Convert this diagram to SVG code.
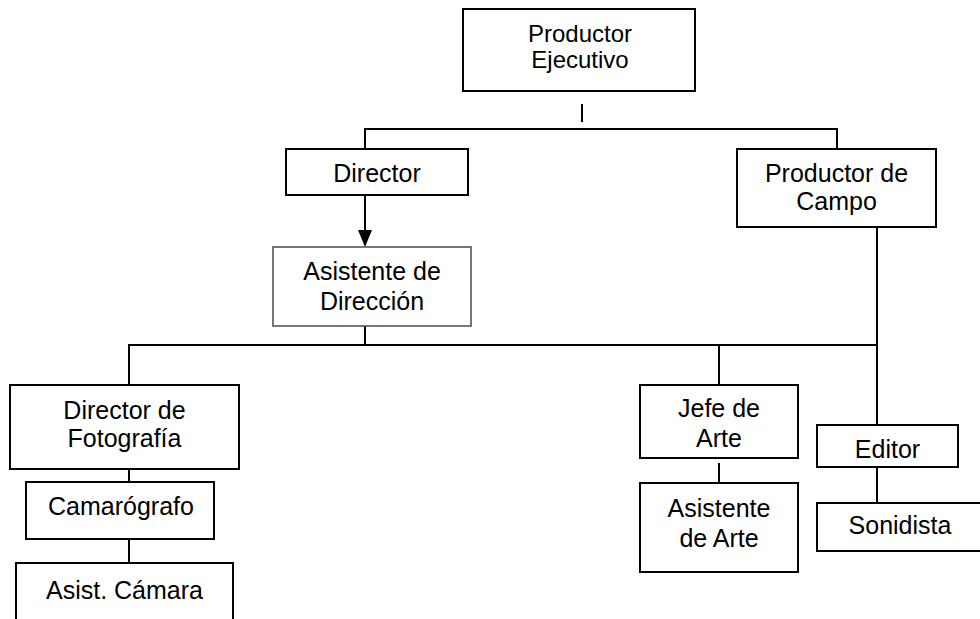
<svg xmlns="http://www.w3.org/2000/svg" width="980" height="619" viewBox="0 0 980 619">
<defs>
<style>
.box{fill:#fff;stroke:#000;stroke-width:2}
.gbox{fill:#fff;stroke:#555;stroke-width:1.6}
.t{font-family:"Liberation Sans",Arial,sans-serif;font-size:25px;fill:#000;text-anchor:middle}
.tt{font-family:"Liberation Sans",Arial,sans-serif;font-size:24px;fill:#000;text-anchor:middle}
.c{fill:none;stroke:#000;stroke-width:2}
</style>
<marker id="arr" markerWidth="14" markerHeight="17" refX="7" refY="17" orient="auto-start-reverse" markerUnits="userSpaceOnUse" viewBox="0 0 14 17">
<path d="M0,0 L14,0 L7,17 Z" fill="#000"/>
</marker>
</defs>
<rect width="980" height="619" fill="#fff"/>
<g id="connectors">
<line class="c" x1="582" y1="104" x2="582" y2="122"/>
<polyline class="c" points="365,149 365,129 837,129 837,149"/>
<line class="c" x1="365" y1="195" x2="365" y2="230"/>
<path d="M358,230 L372,230 L365,247 Z" fill="#000"/>
<line class="c" x1="365" y1="326" x2="365" y2="345"/>
<polyline class="c" points="129,385 129,345 877,345"/>
<line class="c" x1="877" y1="227" x2="877" y2="425"/>
<line class="c" x1="719" y1="345" x2="719" y2="385"/>
<line class="c" x1="129" y1="465" x2="129" y2="482"/>
<line class="c" x1="129" y1="539" x2="129" y2="563"/>
<line class="c" x1="719" y1="463" x2="719" y2="483"/>
<line class="c" x1="877" y1="467" x2="877" y2="503"/>
</g>
<g id="productor-ejecutivo">
<rect class="box" x="463" y="9" width="232" height="82"/>
<text class="tt" x="580" y="42">Productor</text>
<text class="tt" x="580" y="68">Ejecutivo</text>
</g>
<g id="director">
<rect class="box" x="286" y="149" width="182" height="46"/>
<text class="t" x="377" y="182">Director</text>
</g>
<g id="asistente-direccion">
<rect class="gbox" x="273" y="247" width="198" height="79"/>
<text class="t" x="372" y="280">Asistente de</text>
<text class="t" x="372" y="310">Dirección</text>
</g>
<g id="productor-campo">
<rect class="box" x="737" y="149" width="199" height="78"/>
<text class="t" x="836.5" y="182">Productor de</text>
<text class="t" x="836.5" y="210">Campo</text>
</g>
<g id="director-fotografia">
<rect class="box" x="10" y="385" width="229" height="84"/>
<text class="t" x="124.5" y="419">Director de</text>
<text class="t" x="124.5" y="447">Fotografía</text>
</g>
<g id="camarografo">
<rect class="box" x="26" y="482" width="188" height="57"/>
<text class="t" x="121" y="515">Camarógrafo</text>
</g>
<g id="asist-camara">
<rect class="box" x="16" y="563" width="217" height="80"/>
<text class="t" x="124.5" y="599">Asist. Cámara</text>
</g>
<g id="jefe-arte">
<rect class="box" x="640" y="385" width="158" height="73"/>
<text class="t" x="719" y="417">Jefe de</text>
<text class="t" x="719" y="447">Arte</text>
</g>
<g id="asistente-arte">
<rect class="box" x="640" y="483" width="158" height="89"/>
<text class="t" x="719" y="517">Asistente</text>
<text class="t" x="719" y="547">de Arte</text>
</g>
<g id="editor">
<rect class="box" x="817" y="425" width="141" height="42"/>
<text class="t" x="887.5" y="458">Editor</text>
</g>
<g id="sonidista">
<rect class="box" x="817" y="503" width="175" height="48"/>
<text class="t" x="900" y="534">Sonidista</text>
</g>
</svg>
